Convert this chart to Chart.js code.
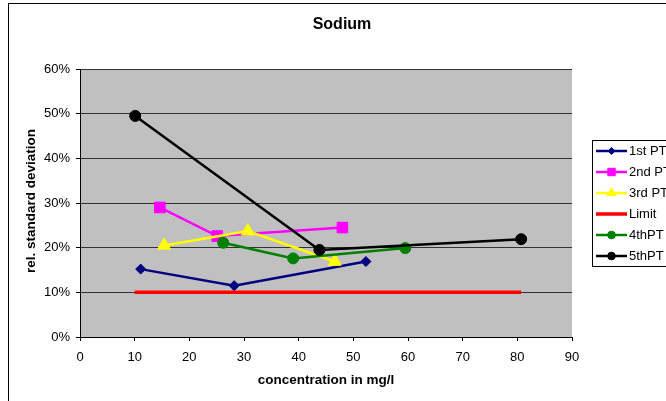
<!DOCTYPE html>
<html>
<head>
<meta charset="utf-8">
<script src="https://cdn.jsdelivr.net/npm/chart.js@4"></script>
<style>
  html, body { margin: 0; padding: 0; background: #fff; }
  #wrap { width: 666px; height: 401px; }
</style>
</head>
<body>
<div id="wrap"><canvas id="chart" width="666" height="401"></canvas></div>
<script>
// values (x in mg/l, y in %)
let seriesNames = ['1st PT', '2nd PT', '3rd PT', 'Limit', '4thPT', '5thPT'];
let pt1X = [11.1, 28.2, 52.3];
let pt1Y = [15.2, 11.5, 16.9];
let pt2X = [14.6, 25.1, 48.0];
let pt2Y = [29.0, 22.6, 24.5];
let pt3X = [15.4, 30.7, 46.6];
let pt3Y = [20.5, 23.7, 16.9];
let limitX = [10, 80.7];
let limitY = [10, 10];
let pt4X = [26.2, 39.0, 59.5];
let pt4Y = [21.1, 17.6, 19.9];
let pt5X = [10.1, 43.8, 80.7];
let pt5Y = [49.5, 19.5, 21.9];

let xTicks = [0, 10, 20, 30, 40, 50, 60, 70, 80, 90];
let yTicks = [0, 10, 20, 30, 40, 50, 60];

let colors = ['#000080', '#FF00FF', '#FFFF00', '#FF0000', '#008000', '#000000'];
let markers = ['rectRot', 'rect', 'triangle', false, 'circle', 'circle'];
let radii = [5, 7.5, 7.5, 0, 5.5, 5.5];
let widths = [2.5, 2.5, 2.5, 3.5, 2.5, 2.5];

let FONT = '"Liberation Sans", Arial, sans-serif';

function toPoints(xs, ys) {
  return xs.map((x, i) => ({x: x, y: ys[i]}));
}

let allData = [
  toPoints(pt1X, pt1Y), toPoints(pt2X, pt2Y), toPoints(pt3X, pt3Y),
  toPoints(limitX, limitY), toPoints(pt4X, pt4Y), toPoints(pt5X, pt5Y)
];

let datasets = allData.map((d, i) => ({
  label: seriesNames[i],
  data: d,
  showLine: true,
  borderColor: colors[i],
  backgroundColor: colors[i],
  borderWidth: widths[i],
  pointStyle: markers[i],
  pointRadius: radii[i],
  pointBorderWidth: 1,
  pointHoverRadius: radii[i],
  order: 6 - i
}));

// grey plot area, outer frame, title, y title and legend
let decor = {
  id: 'decor',
  beforeDraw(chart) {
    let ctx = chart.ctx, a = chart.chartArea;
    ctx.save();
    ctx.fillStyle = '#fff';
    ctx.fillRect(0, 0, chart.width, chart.height);
    ctx.fillStyle = '#C0C0C0';
    ctx.fillRect(a.left, a.top, a.right - a.left, a.bottom - a.top);
    ctx.restore();
  },
  afterDraw(chart) {
    let ctx = chart.ctx;
    ctx.save();
    ctx.strokeStyle = '#000';
    ctx.lineWidth = 1;
    ctx.strokeRect(8.5, 3.5, 700, 500);

    ctx.fillStyle = '#000';
    ctx.font = 'bold 16px ' + FONT;
    ctx.textAlign = 'center';
    ctx.textBaseline = 'middle';
    ctx.fillText('Sodium', 342, 25);

    ctx.font = 'bold 13.5px ' + FONT;
    ctx.translate(31, 201);
    ctx.rotate(-Math.PI / 2);
    ctx.fillText('rel. standard deviation', 0, 0);
    ctx.restore();

    // legend
    ctx.save();
    ctx.fillStyle = '#fff';
    ctx.fillRect(592.5, 140.5, 100, 126);
    ctx.strokeStyle = '#000';
    ctx.lineWidth = 1;
    ctx.strokeRect(592.5, 140.5, 100, 126);
    ctx.font = '13px ' + FONT;
    ctx.textBaseline = 'middle';
    ctx.textAlign = 'left';
    seriesNames.forEach((name, i) => {
      let y = 151 + i * 21;
      ctx.strokeStyle = colors[i];
      ctx.lineWidth = widths[i];
      ctx.beginPath();
      ctx.moveTo(596, y);
      ctx.lineTo(627, y);
      ctx.stroke();
      if (markers[i]) {
        ctx.fillStyle = colors[i];
        ctx.lineWidth = 1;
        Chart.helpers.drawPoint(ctx, {pointStyle: markers[i], radius: radii[i] * 0.7, rotation: 0, borderWidth: 1}, 611.5, y);
      }
      ctx.fillStyle = '#000';
      ctx.fillText(name, 629, y + 0.5);
    });
    ctx.restore();
  }
};

new Chart(document.getElementById('chart'), {
  type: 'scatter',
  data: { datasets: datasets },
  options: {
    responsive: false,
    animation: false,
    layout: { padding: { left: 0, right: 94, top: 69, bottom: 0 } },
    plugins: {
      legend: { display: false },
      title: { display: false },
      tooltip: { enabled: false }
    },
    elements: { line: { tension: 0 } },
    scales: {
      x: {
        type: 'linear',
        min: xTicks[0],
        max: xTicks[xTicks.length - 1],
        afterFit(s) { s.height = 64; },
        afterBuildTicks(s) { s.ticks = xTicks.map(v => ({value: v})); },
        ticks: {
          color: '#000',
          font: { family: FONT, size: 13 },
          padding: 9,
          maxRotation: 0
        },
        grid: {
          drawOnChartArea: false,
          drawTicks: true,
          tickLength: 4,
          tickColor: '#000'
        },
        border: { color: '#000', width: 1 },
        title: {
          display: true,
          text: 'concentration in mg/l',
          color: '#000',
          font: { family: FONT, size: 13.5, weight: 'bold' },
          padding: { top: 0, bottom: 13 }
        }
      },
      y: {
        type: 'linear',
        min: yTicks[0],
        max: yTicks[yTicks.length - 1],
        afterFit(s) { s.width = 80; },
        afterBuildTicks(s) { s.ticks = yTicks.map(v => ({value: v})); },
        ticks: {
          color: '#000',
          font: { family: FONT, size: 13 },
          padding: 6,
          callback: v => v + '%'
        },
        grid: {
          color: '#333',
          lineWidth: 1,
          drawTicks: true,
          tickLength: 4,
          tickColor: '#000'
        },
        border: { color: '#000', width: 1 }
      }
    }
  },
  plugins: [decor]
});
</script>
</body>
</html>
